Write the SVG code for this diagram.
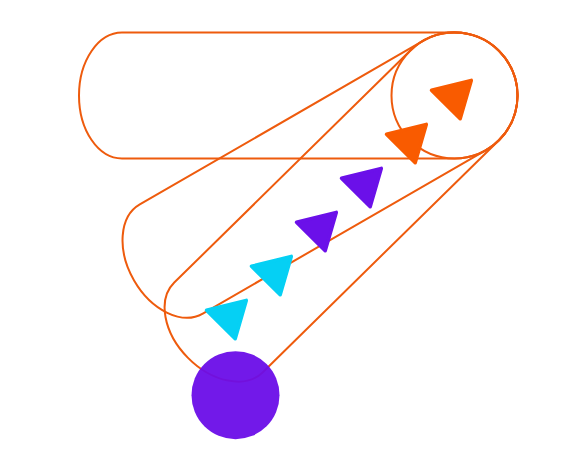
<svg xmlns="http://www.w3.org/2000/svg" xmlns:xlink="http://www.w3.org/1999/xlink" width="574" height="459" viewBox="0 0 574 459">
  <style>
    .hull { fill: none; stroke: #ee5b0d; stroke-width: 2; }
    .tri { stroke-width: 3.5; stroke-linejoin: round; }
    .orange { fill: #f95b00; stroke: #f95b00; }
    .cyan { fill: #05d0f4; stroke: #05d0f4; }
    .purple { fill: #6b10e9; stroke: #6b10e9; }
  </style>
  <defs>
    <polygon id="tri" points="1.5,0.3 41.3,-9.6 30.2,28.8"/>
  </defs>
  <g id="connectors">
    <path class="hull" d="M122,32.5 H454.5 A63,63 0 0 1 454.5,158.5 H122 A43,63 0 0 1 122,32.5 Z"/>
    <path class="hull" transform="translate(454.5,95.5) rotate(-30)" d="M0,-63 A63,63 0 0 1 0,63 H-327 A43,63 0 0 1 -327,-63 Z"/>
    <path class="hull" transform="translate(454.5,95.5) rotate(-44.5)" d="M0,-63 A63,63 0 0 1 0,63 H-331 A43,63 0 0 1 -331,-63 Z"/>
  </g>
  <g id="node-hub">
    <circle cx="454.5" cy="95.5" r="63" class="hull"/>
  </g>
  <g id="node-source">
    <circle cx="235.5" cy="395.2" r="44" fill="#6a0de8" fill-opacity="0.95"/>
  </g>
  <g id="markers">
    <use xlink:href="#tri" x="205" y="310" class="tri cyan"/>
    <use xlink:href="#tri" x="250" y="266" class="tri cyan"/>
    <use xlink:href="#tri" x="295" y="222" class="tri purple"/>
    <use xlink:href="#tri" x="340" y="178" class="tri purple"/>
    <use xlink:href="#tri" x="385" y="134" class="tri orange"/>
    <use xlink:href="#tri" x="430" y="90" class="tri orange"/>
  </g>
</svg>
